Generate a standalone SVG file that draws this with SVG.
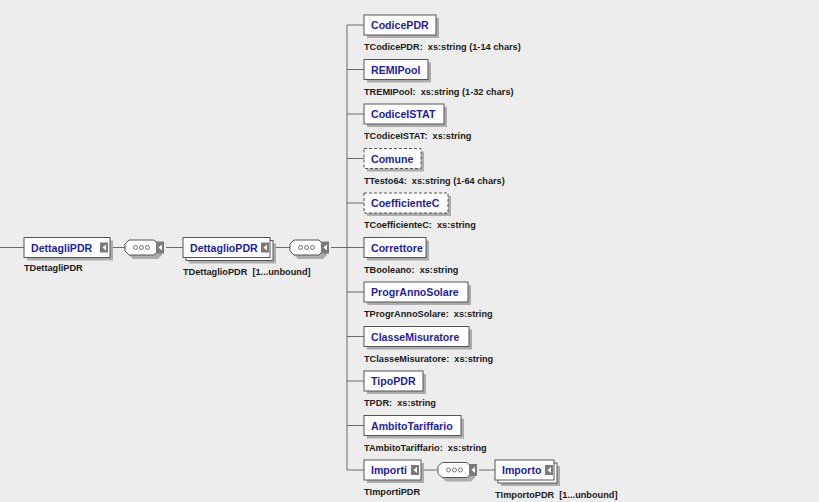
<svg xmlns="http://www.w3.org/2000/svg" width="819" height="502" viewBox="0 0 819 502" xml:space="preserve">
<style>
.bg{fill:#ededed}
.ln{stroke:#6a6a6a;stroke-width:1;fill:none}
.sh{fill:#acacac}
.bx{fill:#fff;stroke:#555;stroke-width:1}
.opt{fill:#fff;stroke:#555;stroke-width:1;stroke-dasharray:3,2}
.nm{font-family:"Liberation Sans",Arial,sans-serif;font-weight:bold;font-size:10.6px;fill:#1c1cac}
.lb{font-family:"Liberation Sans",Arial,sans-serif;font-weight:bold;font-size:9.2px;fill:#1a1a1a;white-space:pre}
.ic{fill:#7a7a7a}
.tri{fill:#fff}
.dot{fill:#fff;stroke:#555;stroke-width:0.8}
</style>
<defs>
<g id="elicon"><rect class="ic" x="0" y="-5" width="8" height="10"/><path class="tri" d="M6,-3 L2.5,0 L6,3 Z"/></g>
<g id="seq">
<path class="sh" d="M8,2 H33 L37,6 V13 L33,17 H8 L4,13 V6 Z" transform="translate(2,2)"/>
<path class="bx" d="M6,0 H31 L35,4 V11 L31,15 H6 L2,11 V4 Z"/>
<circle class="dot" cx="12.5" cy="7.5" r="2"/><circle class="dot" cx="18.5" cy="7.5" r="2"/><circle class="dot" cx="24.5" cy="7.5" r="2"/>
<rect class="ic" x="33" y="1.5" width="8" height="12"/><path class="tri" d="M39,4.5 L35.5,7.5 L39,10.5 Z"/>
</g>
</defs>
<rect class="bg" x="0" y="0" width="819" height="502"/>
<g id="connectors">
<line class="ln" x1="0" y1="247.5" x2="24" y2="247.5"/>
<line class="ln" x1="110" y1="247.5" x2="125" y2="247.5"/>
<line class="ln" x1="166" y1="247.5" x2="183" y2="247.5"/>
<line class="ln" x1="273" y1="247.5" x2="290" y2="247.5"/>
<line class="ln" x1="331" y1="247.5" x2="347" y2="247.5"/>
<line class="ln" x1="347" y1="25" x2="347" y2="470"/>
<line class="ln" x1="347" y1="25" x2="364" y2="25"/>
<line class="ln" x1="347" y1="69.5" x2="364" y2="69.5"/>
<line class="ln" x1="347" y1="114" x2="364" y2="114"/>
<line class="ln" x1="347" y1="158.5" x2="364" y2="158.5"/>
<line class="ln" x1="347" y1="203" x2="364" y2="203"/>
<line class="ln" x1="347" y1="247.5" x2="364" y2="247.5"/>
<line class="ln" x1="347" y1="292" x2="364" y2="292"/>
<line class="ln" x1="347" y1="336.5" x2="364" y2="336.5"/>
<line class="ln" x1="347" y1="381" x2="364" y2="381"/>
<line class="ln" x1="347" y1="425.5" x2="364" y2="425.5"/>
<line class="ln" x1="347" y1="470" x2="364" y2="470"/>
<line class="ln" x1="421" y1="470" x2="438" y2="470"/>
<line class="ln" x1="479" y1="470" x2="495" y2="470"/>
</g>
<g id="DettagliPDR">
<rect class="sh" x="27" y="240.5" width="86" height="20"/>
<rect class="bx" x="24" y="237.5" width="86" height="20"/>
<text class="nm" x="31" y="251.5">DettagliPDR</text>
<use href="#elicon" x="100" y="247.5"/>
<text class="lb" x="24" y="271">TDettagliPDR</text>
</g>
<g id="seq1"><use href="#seq" x="123" y="240"/></g>
<g id="DettaglioPDR">
<rect class="sh" x="189" y="243.5" width="87" height="20"/>
<rect class="bx" x="186" y="240.5" width="87" height="20"/>
<rect class="bx" x="183" y="237.5" width="87" height="20"/>
<text class="nm" x="190" y="251.5">DettaglioPDR</text>
<use href="#elicon" x="261" y="247.5"/>
<text class="lb" x="183" y="275">TDettaglioPDR  [1...unbound]</text>
</g>
<g id="seq2"><use href="#seq" x="288" y="240"/></g>
<g id="CodicePDR">
<rect class="sh" x="367" y="18" width="72" height="20"/><rect class="bx" x="364" y="15" width="72" height="20"/>
<text class="nm" x="371" y="29">CodicePDR</text>
<text class="lb" x="364" y="50">TCodicePDR:  xs:string (1-14 chars)</text>
</g>
<g id="REMIPool">
<rect class="sh" x="367" y="62.5" width="64" height="20"/><rect class="bx" x="364" y="59.5" width="64" height="20"/>
<text class="nm" x="371" y="73.5">REMIPool</text>
<text class="lb" x="364" y="94.5">TREMIPool:  xs:string (1-32 chars)</text>
</g>
<g id="CodiceISTAT">
<rect class="sh" x="367" y="107" width="80" height="20"/><rect class="bx" x="364" y="104" width="80" height="20"/>
<text class="nm" x="371" y="118">CodiceISTAT</text>
<text class="lb" x="364" y="139">TCodiceISTAT:  xs:string</text>
</g>
<g id="Comune">
<rect class="sh" x="367" y="151.5" width="57" height="20"/><rect class="opt" x="364" y="148.5" width="57" height="20"/>
<text class="nm" x="371" y="162.5">Comune</text>
<text class="lb" x="364" y="183.5">TTesto64:  xs:string (1-64 chars)</text>
</g>
<g id="CoefficienteC">
<rect class="sh" x="367" y="196" width="84" height="20"/><rect class="opt" x="364" y="193" width="84" height="20"/>
<text class="nm" x="371" y="207">CoefficienteC</text>
<text class="lb" x="364" y="228">TCoefficienteC:  xs:string</text>
</g>
<g id="Correttore">
<rect class="sh" x="367" y="240.5" width="62" height="20"/><rect class="bx" x="364" y="237.5" width="62" height="20"/>
<text class="nm" x="371" y="251.5">Correttore</text>
<text class="lb" x="364" y="272.5">TBooleano:  xs:string</text>
</g>
<g id="ProgrAnnoSolare">
<rect class="sh" x="367" y="285" width="104" height="20"/><rect class="bx" x="364" y="282" width="104" height="20"/>
<text class="nm" x="371" y="296">ProgrAnnoSolare</text>
<text class="lb" x="364" y="317">TProgrAnnoSolare:  xs:string</text>
</g>
<g id="ClasseMisuratore">
<rect class="sh" x="367" y="329.5" width="105" height="20"/><rect class="bx" x="364" y="326.5" width="105" height="20"/>
<text class="nm" x="371" y="340.5">ClasseMisuratore</text>
<text class="lb" x="364" y="361.5">TClasseMisuratore:  xs:string</text>
</g>
<g id="TipoPDR">
<rect class="sh" x="367" y="374" width="59" height="20"/><rect class="bx" x="364" y="371" width="59" height="20"/>
<text class="nm" x="371" y="385">TipoPDR</text>
<text class="lb" x="364" y="406">TPDR:  xs:string</text>
</g>
<g id="AmbitoTariffario">
<rect class="sh" x="367" y="418.5" width="97" height="20"/><rect class="bx" x="364" y="415.5" width="97" height="20"/>
<text class="nm" x="371" y="429.5">AmbitoTariffario</text>
<text class="lb" x="364" y="450.5">TAmbitoTariffario:  xs:string</text>
</g>
<g id="Importi">
<rect class="sh" x="367" y="463" width="57" height="20"/><rect class="bx" x="364" y="460" width="57" height="20"/>
<text class="nm" x="371" y="474">Importi</text>
<use href="#elicon" x="411" y="470"/>
<text class="lb" x="364" y="495">TImportiPDR</text>
</g>
<g id="seq3"><use href="#seq" x="436" y="462.5"/></g>
<g id="Importo">
<rect class="sh" x="501" y="466" width="59" height="20"/>
<rect class="bx" x="498" y="463" width="59" height="20"/>
<rect class="bx" x="495" y="460" width="59" height="20"/>
<text class="nm" x="502" y="474">Importo</text>
<use href="#elicon" x="545" y="470"/>
<text class="lb" x="495" y="498">TImportoPDR  [1...unbound]</text>
</g>
</svg>
